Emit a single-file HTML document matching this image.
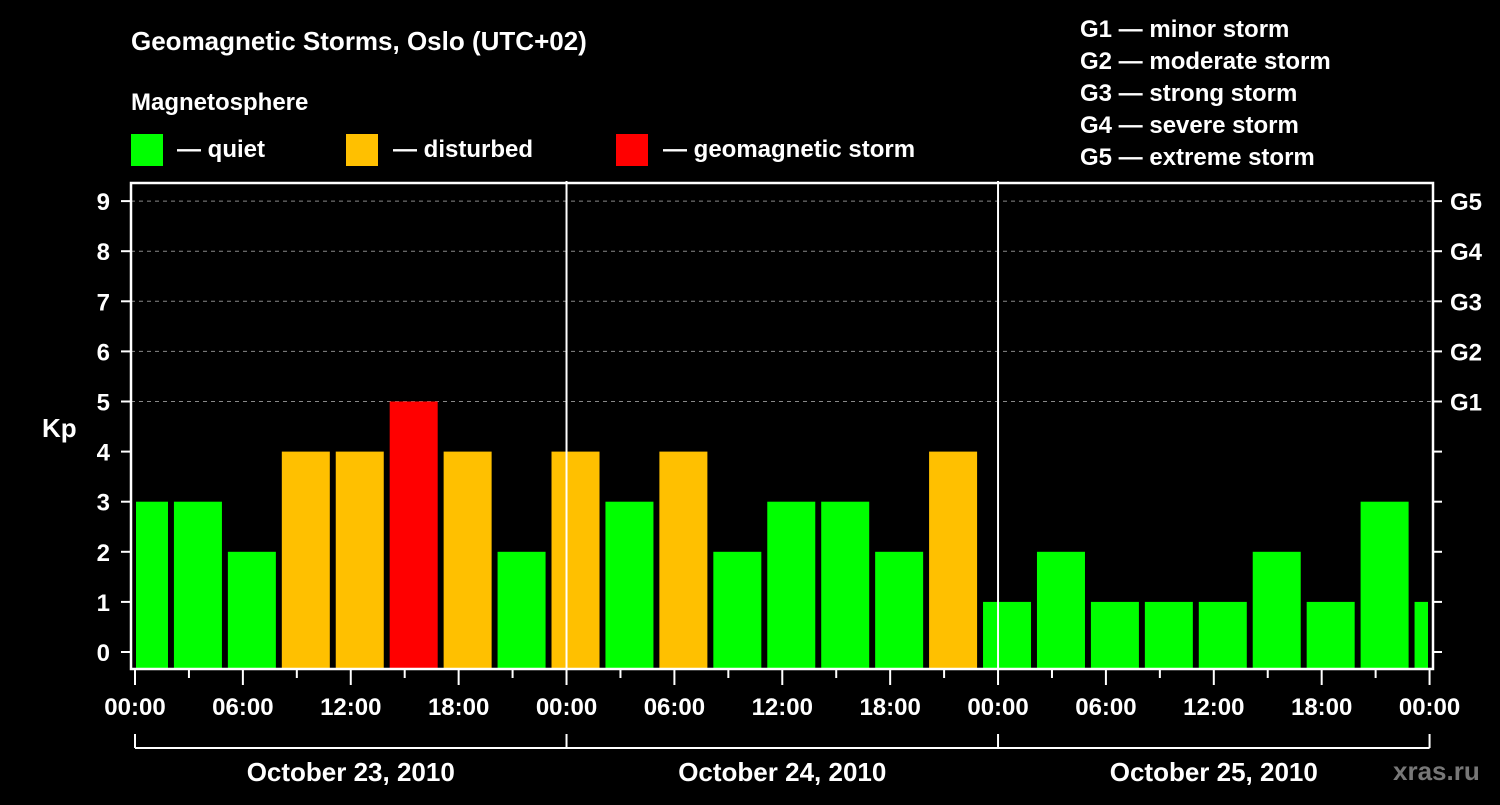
<!DOCTYPE html>
<html><head><meta charset="utf-8"><style>
body{margin:0;background:#000;width:1500px;height:800px;overflow:hidden}
svg{font-family:"Liberation Sans",sans-serif;font-weight:bold;fill:#fff}
</style></head><body>
<svg id="c" width="1500" height="800" viewBox="0 0 1500 800">
<rect width="1500" height="800" fill="#000"/>
<text x="131" y="50" font-size="26">Geomagnetic Storms, Oslo (UTC+02)</text>
<text x="131" y="110" font-size="24">Magnetosphere</text>
<rect x="131" y="134" width="32" height="32" fill="#00ff00"/>
<text x="177" y="157" font-size="24">— quiet</text>
<rect x="346" y="134" width="32" height="32" fill="#ffc000"/>
<text x="393" y="157" font-size="24">— disturbed</text>
<rect x="616" y="134" width="32" height="32" fill="#ff0000"/>
<text x="663" y="157" font-size="24">— geomagnetic storm</text>
<g font-size="24">
<text x="1080" y="37">G1 — minor storm</text>
<text x="1080" y="69">G2 — moderate storm</text>
<text x="1080" y="101">G3 — strong storm</text>
<text x="1080" y="133">G4 — severe storm</text>
<text x="1080" y="165">G5 — extreme storm</text>
</g>
<text x="42" y="437" font-size="26">Kp</text>
<text x="1393" y="780" font-size="26" fill="#777" style="fill:#777">xras.ru</text>
<g id="plot"></g>
</svg>
<script>
const kpValues=[3,3,2,4,4,5,4,2, 4,3,4,2,3,3,2,4, 1,2,1,1,1,2,1,3, 1];
const dayLabels=["October 23, 2010","October 24, 2010","October 25, 2010"];
const hourLabels=["00:00","06:00","12:00","18:00"];
const gLabels=["G1","G2","G3","G4","G5"];
const NS="http://www.w3.org/2000/svg";
const g=document.getElementById('plot');
const X0=131,X1=1433,Y0=183,YB=669,x00=135,pxH=17.98;
const xh=h=>x00+h*pxH;
const yk=k=>652-k*50.1;
function el(t,a){const e=document.createElementNS(NS,t);for(const k in a)e.setAttribute(k,a[k]);g.appendChild(e);return e;}
// grid
for(let k=5;k<=9;k++){
 const l=el('line',{x1:X0,x2:X1,y1:yk(k),y2:yk(k),stroke:'#888','stroke-dasharray':'4,4','stroke-width':1});
 
 
}
// bars
kpValues.forEach((v,i)=>{
 const c=xh(i*3+0.5); let a=c-24,b=c+24;
 a=Math.max(a,136);b=Math.min(b,1428);
 const col=v>=5?'#ff0000':v>=4?'#ffc000':'#00ff00';
 const r=el('rect',{x:a,y:yk(v),width:b-a,height:YB-yk(v),fill:col});
 
 
});
// frame
const fr=el('rect',{x:X0,y:Y0,width:X1-X0,height:YB-Y0,fill:'none',stroke:'#fff','stroke-width':2.5});


for(let d=1;d<3;d++){
 const l=el('line',{x1:xh(d*24),x2:xh(d*24),y1:181,y2:YB,stroke:'#fff','stroke-width':2});
 
 
}
// y ticks
for(let k=0;k<=9;k++){
 el('line',{x1:121,x2:X0,y1:yk(k),y2:yk(k),stroke:'#fff','stroke-width':2});
 el('line',{x1:X1,x2:1442,y1:yk(k),y2:yk(k),stroke:'#fff','stroke-width':2});
 const t=el('text',{x:110,y:yk(k)+9,'font-size':24,'text-anchor':'end'});t.textContent=k;
 
 
}
gLabels.forEach((s,i)=>{
 const t=el('text',{x:1450,y:yk(5+i)+9,'font-size':24});t.textContent=s;
 
 
});
// x ticks
for(let k=0;k<=24;k++){
 const x=xh(k*3);
 el('line',{x1:x,x2:x,y1:YB,y2:k%2?678:685,stroke:'#fff','stroke-width':2});
 if(k%2===0){
  const t=el('text',{x:x,y:715,'font-size':24,'text-anchor':'middle'});
  t.textContent=hourLabels[(k/2)%4];
  
  
 }
}
// day bracket
el('line',{x1:xh(0),x2:xh(72),y1:748,y2:748,stroke:'#fff','stroke-width':2});
for(let d=0;d<=3;d++) el('line',{x1:xh(d*24),x2:xh(d*24),y1:734,y2:748,stroke:'#fff','stroke-width':2});
dayLabels.forEach((s,d)=>{
 const t=el('text',{x:xh(d*24+12),y:781,'font-size':26,'text-anchor':'middle'});t.textContent=s;
 
 
});
</script>
</body></html>
